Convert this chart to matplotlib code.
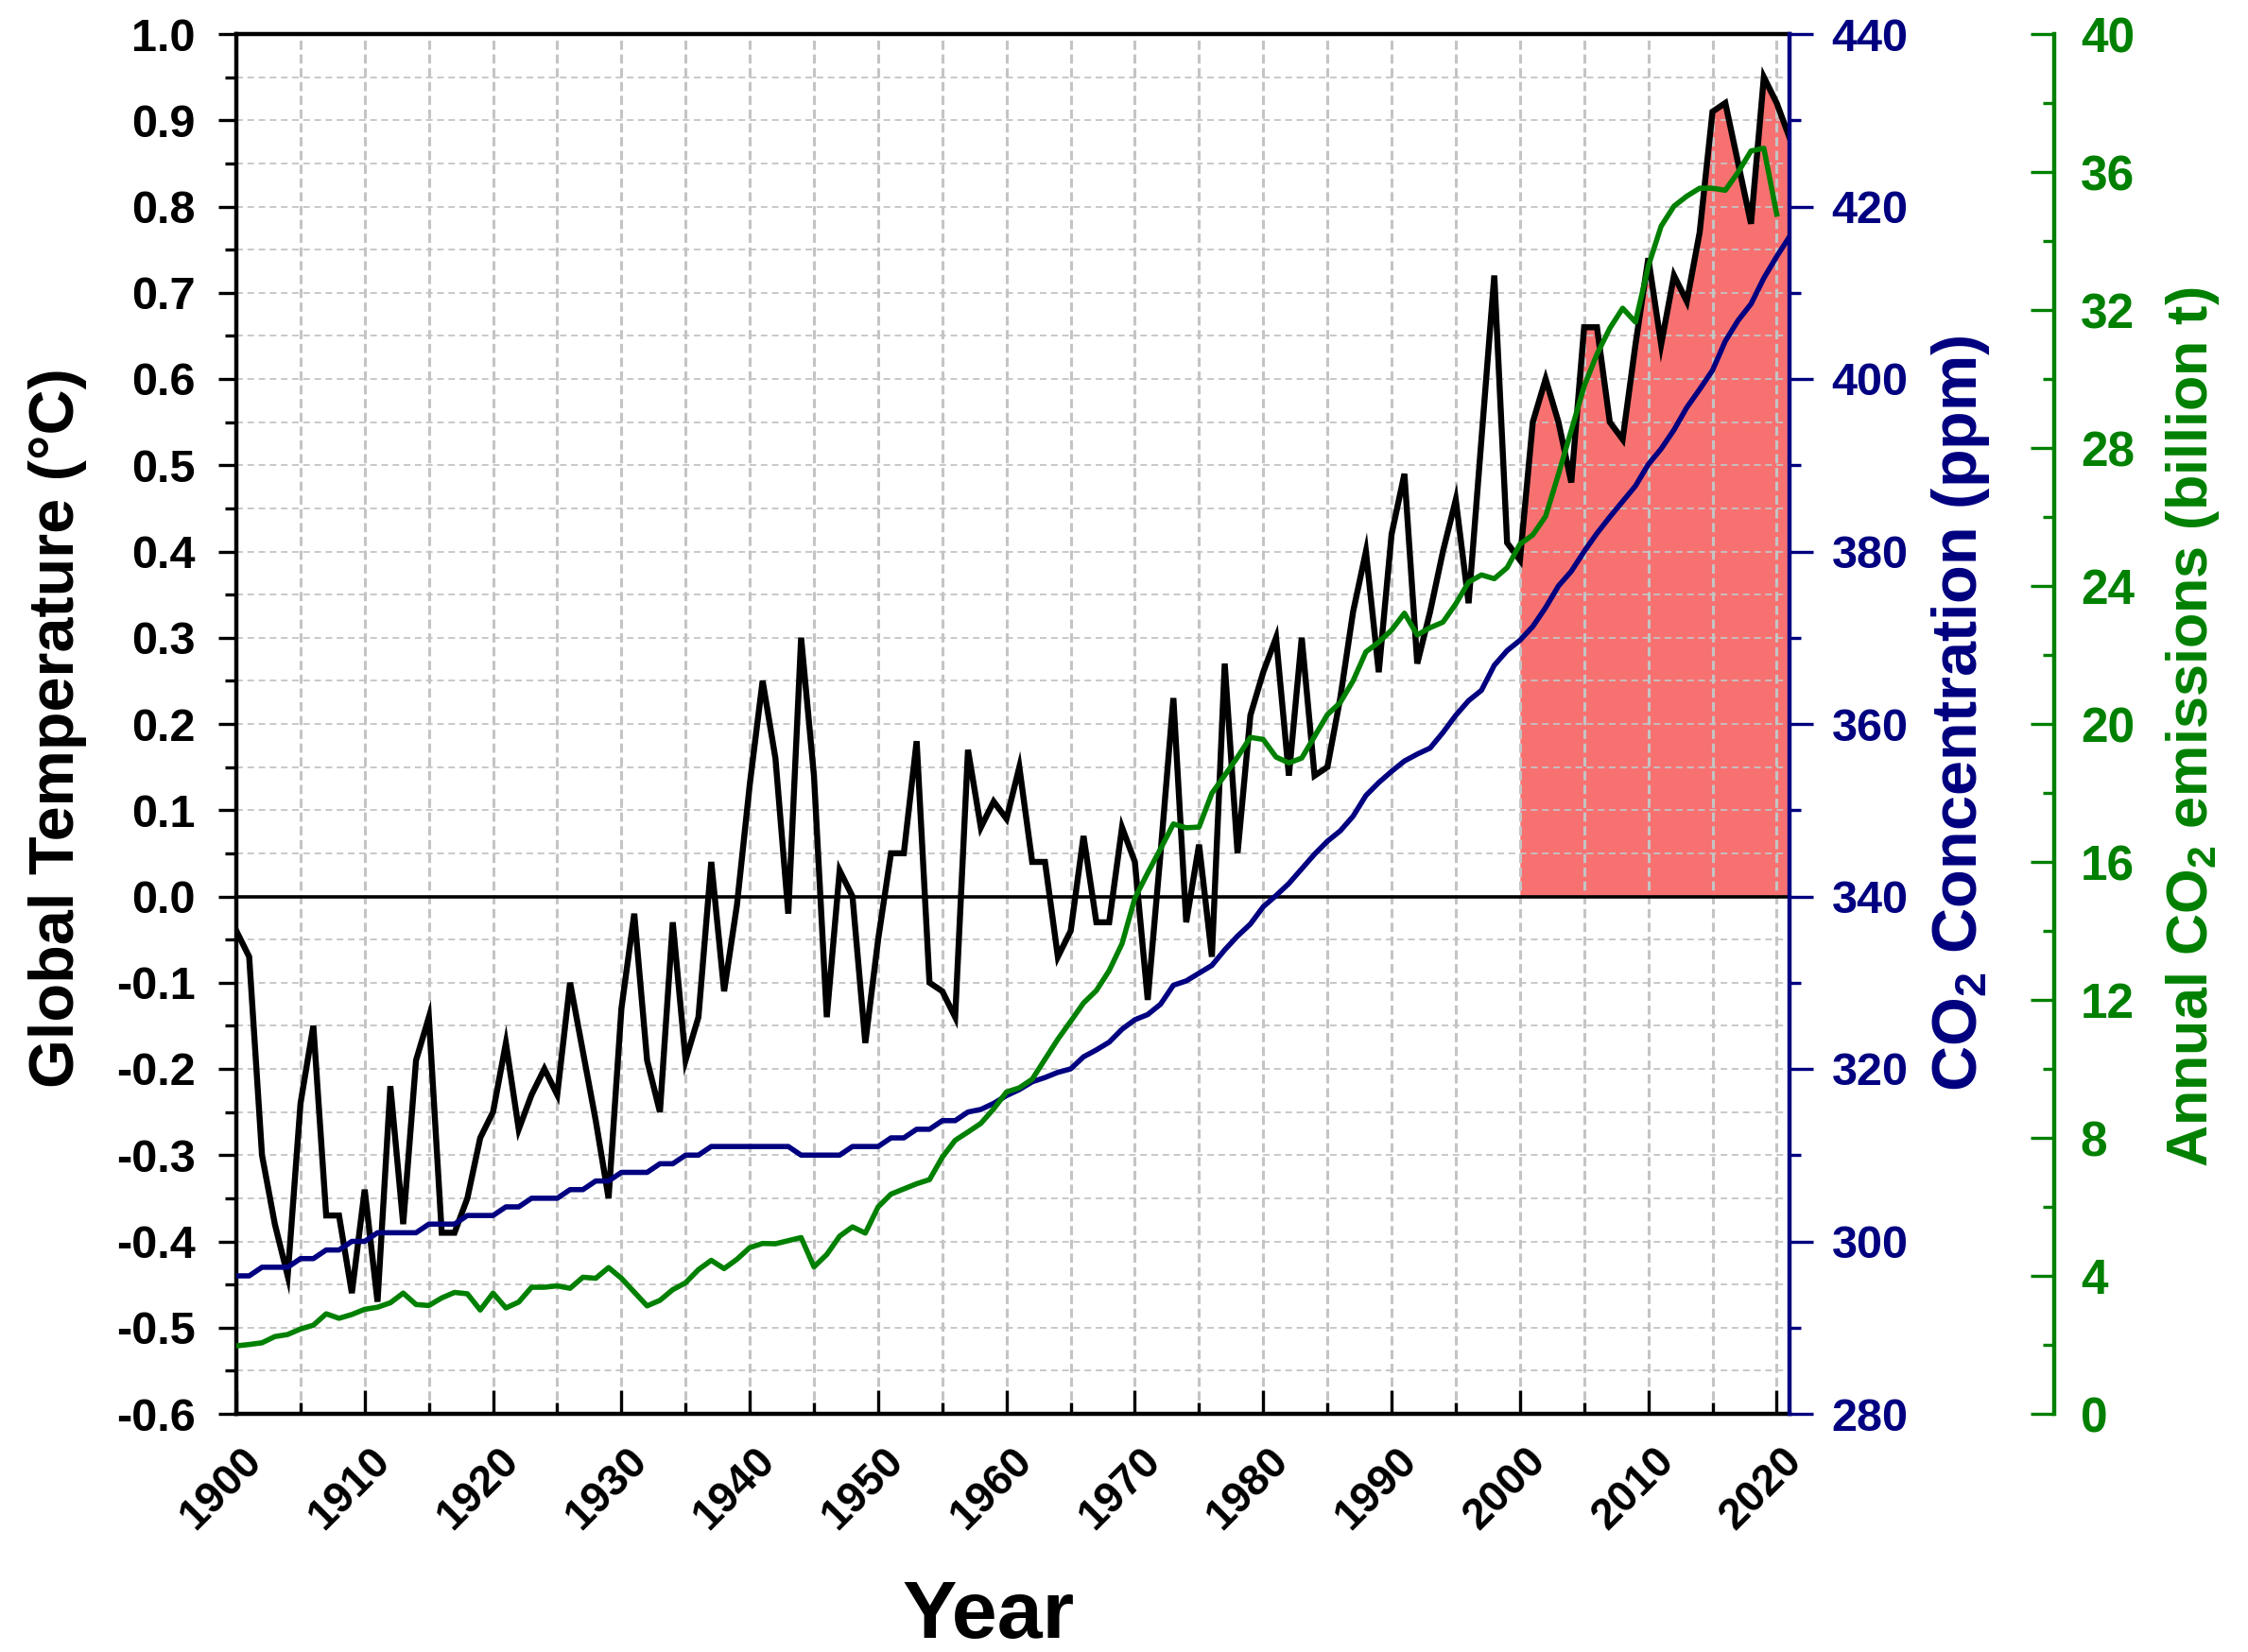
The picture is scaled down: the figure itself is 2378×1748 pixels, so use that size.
import numpy as np
import matplotlib
matplotlib.use("Agg")
import matplotlib.pyplot as plt
import matplotlib.transforms as mtransforms
from matplotlib.ticker import MultipleLocator, FormatStrFormatter

# ---------------- data ----------------
temp_years = list(range(1900, 2022))
temp_anomaly = [
    -0.04, -0.07, -0.30, -0.38, -0.44, -0.24, -0.15, -0.37, -0.37, -0.46,
    -0.34, -0.47, -0.22, -0.38, -0.19, -0.14, -0.39, -0.39, -0.35, -0.28,
    -0.25, -0.17, -0.27, -0.23, -0.20, -0.23, -0.10, -0.18, -0.26, -0.35,
    -0.13, -0.02, -0.19, -0.25, -0.03, -0.19, -0.14, 0.04, -0.11, -0.01,
    0.13, 0.25, 0.16, -0.02, 0.30, 0.14, -0.14, 0.03, 0.00, -0.17,
    -0.05, 0.05, 0.05, 0.18, -0.10, -0.11, -0.14, 0.17, 0.08, 0.11,
    0.09, 0.15, 0.04, 0.04, -0.07, -0.04, 0.07, -0.03, -0.03, 0.08,
    0.04, -0.12, 0.05, 0.23, -0.03, 0.06, -0.07, 0.27, 0.05, 0.21,
    0.26, 0.30, 0.14, 0.30, 0.14, 0.15, 0.23, 0.33, 0.40, 0.26,
    0.42, 0.49, 0.27, 0.33, 0.40, 0.46, 0.34, 0.53, 0.72, 0.41,
    0.39, 0.55, 0.60, 0.55, 0.48, 0.66, 0.66, 0.55, 0.53, 0.64,
    0.74, 0.64, 0.72, 0.69, 0.77, 0.91, 0.92, 0.85, 0.78, 0.95,
    0.92, 0.88,
]

co2_years = list(range(1900, 2022))
co2_ppm = [
    296, 296, 297, 297, 297, 298, 298, 299, 299, 300,
    300, 301, 301, 301, 301, 302, 302, 302, 303, 303,
    303, 304, 304, 305, 305, 305, 306, 306, 307, 307,
    308, 308, 308, 309, 309, 310, 310, 311, 311, 311,
    311, 311, 311, 311, 310, 310, 310, 310, 311, 311,
    311, 312, 312, 313, 313, 314, 314, 315, 315.3, 316.0,
    316.9, 317.6, 318.5, 319.0, 319.6, 320.0, 321.4, 322.2, 323.1, 324.6,
    325.7, 326.3, 327.5, 329.7, 330.2, 331.1, 332.0, 333.8, 335.4, 336.8,
    338.8, 340.1, 341.5, 343.2, 344.9, 346.4, 347.6, 349.3, 351.7, 353.2,
    354.5, 355.7, 356.5, 357.2, 359.0, 361.0, 362.7, 363.9, 366.8, 368.5,
    369.7, 371.3, 373.5, 376.0, 377.7, 380.0, 382.1, 384.0, 385.8, 387.6,
    390.1, 391.9, 394.1, 396.7, 398.8, 401.0, 404.4, 406.8, 408.7, 411.7,
    414.2, 416.5,
]

emission_years = list(range(1900, 2021))
co2_emissions = [
    1.97, 2.01, 2.06, 2.24, 2.30, 2.46, 2.57, 2.90, 2.77, 2.88,
    3.03, 3.09, 3.22, 3.50, 3.17, 3.14, 3.36, 3.52, 3.48, 3.01,
    3.50, 3.07, 3.24, 3.67, 3.67, 3.71, 3.64, 3.96, 3.93, 4.24,
    3.93, 3.53, 3.13, 3.29, 3.60, 3.80, 4.18, 4.45, 4.21, 4.48,
    4.82, 4.94, 4.93, 5.02, 5.11, 4.26, 4.62, 5.15, 5.42, 5.24,
    6.00, 6.37, 6.52, 6.67, 6.79, 7.44, 7.93, 8.17, 8.42, 8.84,
    9.33, 9.45, 9.70, 10.28, 10.86, 11.38, 11.91, 12.27, 12.85, 13.63,
    14.95, 15.68, 16.38, 17.10, 16.99, 17.01, 17.99, 18.51, 19.04, 19.61,
    19.55, 19.04, 18.87, 19.01, 19.64, 20.27, 20.62, 21.25, 22.09, 22.37,
    22.72, 23.21, 22.58, 22.79, 22.95, 23.48, 24.11, 24.32, 24.21, 24.53,
    25.21, 25.48, 26.02, 27.24, 28.51, 29.79, 30.72, 31.47, 32.05, 31.65,
    33.27, 34.43, 35.01, 35.30, 35.53, 35.53, 35.47, 36.00, 36.61, 36.69,
    34.78,
]

year_ticks = list(range(1900, 2021, 10))
temp_ticks = [-0.6, -0.5, -0.4, -0.3, -0.2, -0.1, 0.0,
              0.1, 0.2, 0.3, 0.4, 0.5, 0.6, 0.7, 0.8, 0.9, 1.0]
warm_period_start = 2000

# ---------------- style ----------------
plt.rcParams["font.family"] = ["Liberation Sans", "DejaVu Sans"]
plt.rcParams["font.weight"] = "bold"
plt.rcParams["mathtext.fontset"] = "custom"
plt.rcParams["mathtext.rm"] = "Liberation Sans:bold"
plt.rcParams["mathtext.it"] = "Liberation Sans:bold"
plt.rcParams["mathtext.bf"] = "Liberation Sans:bold"
plt.rcParams["mathtext.default"] = "rm"
plt.rcParams["axes.unicode_minus"] = False
plt.rcParams["lines.scale_dashes"] = False

NAVY = "#000080"
GREEN = "#008000"
FILL = "#F87171"
GRID = "#C4C4C4"

W_PX, H_PX = 2378, 1748
fig = plt.figure(figsize=(W_PX / 100, H_PX / 100), dpi=100)

left, right, top, bottom = 250, 1893, 36, 1496
ax = fig.add_axes([left / W_PX, 1 - bottom / H_PX,
                   (right - left) / W_PX, (bottom - top) / H_PX])
ax2 = ax.twinx()
ax3 = ax.twinx()

t_years = np.array(temp_years)
t_vals = np.array(temp_anomaly)

# shaded warm period since 2000
mask = t_years >= warm_period_start
ax.fill_between(t_years[mask], 0, t_vals[mask], color=FILL, lw=0, zorder=1)
ax.axhline(0, color="black", lw=2.6, zorder=2)
ax.plot(t_years, t_vals, color="black", lw=4.6, zorder=3,
        solid_joinstyle="miter")

ax2.plot(co2_years, co2_ppm, color=NAVY, lw=4.0)
ax3.plot(emission_years, co2_emissions, color=GREEN, lw=4.0)

# ---------------- axes limits ----------------
ax.set_xlim(1900, 2021)
ax.set_ylim(-0.6, 1.0)
ax2.set_ylim(280, 440)
ax3.set_ylim(0, 40)

# ---------------- grid ----------------
ax.xaxis.set_minor_locator(MultipleLocator(5))
ax.yaxis.set_minor_locator(MultipleLocator(0.05))
ax.grid(which="both", axis="x", color=GRID, lw=2.2, ls=(0, (7, 3.5)))
ax.grid(which="both", axis="y", color=GRID, lw=1.3, ls=(0, (5, 3.5)))

# ---------------- spines ----------------
SPW = 3.2
for s in ("left", "bottom", "top"):
    ax.spines[s].set_linewidth(SPW)
    ax.spines[s].set_color("black")
ax.spines["right"].set_visible(False)

for s in ("left", "bottom", "top"):
    ax2.spines[s].set_visible(False)
    ax3.spines[s].set_visible(False)
ax2.spines["right"].set_color(NAVY)
ax2.spines["right"].set_linewidth(SPW)
ax3.spines["right"].set_position(("axes", (2173 - left) / (right - left)))
ax3.spines["right"].set_color(GREEN)
ax3.spines["right"].set_linewidth(SPW)

# ---------------- ticks ----------------
ax.set_xticks(year_ticks)
ax.set_xticklabels([str(y) for y in year_ticks], rotation=45, ha="center")
ax.tick_params(axis="x", which="major", direction="in", length=18, width=2.4,
               labelsize=33, pad=20, top=False)
ax.tick_params(axis="x", which="minor", direction="in", length=8.5, width=2.4,
               top=False)
shift = mtransforms.ScaledTranslation(-0.16, 0, fig.dpi_scale_trans)
for lbl in ax.get_xticklabels():
    lbl.set_transform(lbl.get_transform() + shift)

ax.set_yticks(temp_ticks)
ax.yaxis.set_major_formatter(FormatStrFormatter("%.1f"))
ax.tick_params(axis="y", which="major", direction="out", length=14, width=2.4,
               labelsize=35, pad=17)
ax.tick_params(axis="y", which="minor", direction="out", length=8.5, width=2.4)

ax2.yaxis.set_major_locator(MultipleLocator(20))
ax2.yaxis.set_minor_locator(MultipleLocator(10))
ax2.tick_params(axis="y", which="major", direction="out", length=18, width=2.4,
                labelsize=35, pad=14, colors=NAVY)
ax2.tick_params(axis="y", which="minor", direction="out", length=8.5,
                width=2.4, colors=NAVY)

ax3.yaxis.set_major_locator(MultipleLocator(4))
ax3.yaxis.set_minor_locator(MultipleLocator(2))
ax3.tick_params(axis="y", which="major", direction="in", length=18, width=2.4,
                labelsize=37, pad=20, colors=GREEN)
ax3.tick_params(axis="y", which="minor", direction="in", length=8.5,
                width=2.4, colors=GREEN)

for a in (ax, ax2, ax3):
    for lbl in a.get_xticklabels() + a.get_yticklabels():
        lbl.set_fontweight("bold")

# ---------------- axis titles ----------------
fig.text(61 / W_PX, 1 - 770 / H_PX, "Global Temperature (°C)", rotation=90,
         ha="center", va="center", fontsize=48, fontweight="bold")
fig.text(2074 / W_PX, 1 - 755 / H_PX, "CO$_2$ Concentration (ppm)",
         rotation=90, ha="center", va="center", fontsize=48,
         fontweight="bold", color=NAVY)
fig.text(2320 / W_PX, 1 - 769 / H_PX, "Annual CO$_2$ emissions (billion t)",
         rotation=90, ha="center", va="center", fontsize=44,
         fontweight="bold", color=GREEN)
fig.text(1046 / W_PX, 1 - 1733 / H_PX, "Year", ha="center", va="baseline",
         fontsize=62, fontweight="bold",
         family=["Liberation Sans Narrow", "Liberation Sans"])

fig.savefig("out.png", dpi=100)
